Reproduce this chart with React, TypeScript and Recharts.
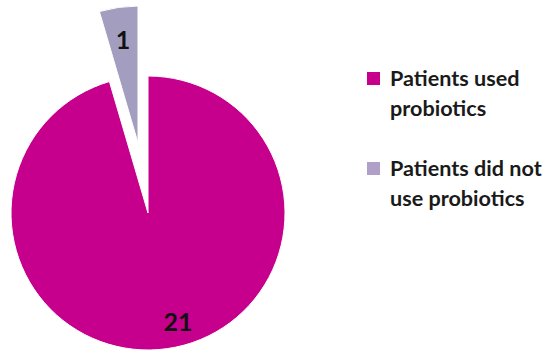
import { PieChart, Pie, Cell, Legend } from 'recharts'

const NAMES = ['Patients used probiotics', 'Patients did not use probiotics']
const LEGEND_LINES = [
    ['Patients used', 'probiotics'],
    ['Patients did not', 'use probiotics'],
]
const VALUES = [21, 1]
const COLORS = ['#C6008D', '#A39EBF']
const LEGEND_COLORS = ['#C6008D', '#B0A0C8']

const data = NAMES.map((name, i) => ({ name, value: VALUES[i] }))

const RAD = Math.PI / 180

// only draw the label for the slice that is visible in this pie
const makeLabel = (visibleIndex: number, frac: number, anchor: 'start' | 'middle') => (props: any) => {
    const { cx, cy, midAngle, outerRadius, index, value } = props
    if (index !== visibleIndex) return null
    const r = outerRadius * frac
    const x = cx + r * Math.cos(-midAngle * RAD)
    const y = cy + r * Math.sin(-midAngle * RAD)
    return (
        <text x={x} y={y} fill="#111" textAnchor={anchor} dominantBaseline="central"
            fontSize={25} fontWeight="bold" fontFamily="Lato, sans-serif">
            {value}
        </text>
    )
}

const LegendContent = () => (
    <div style={{ fontFamily: 'Lato, sans-serif', fontWeight: 700, fontSize: 21.6, color: '#1a1a1a' }}>
        {LEGEND_LINES.map((lines, i) => (
            <div key={i} style={{ display: 'flex', marginBottom: i === 0 ? 30 : 0 }}>
                <div style={{ width: 13, height: 13, background: LEGEND_COLORS[i], marginTop: 9, marginRight: 10 }} />
                <div style={{ lineHeight: '30px' }}>
                    {lines.map((l, j) => <div key={j}>{l}</div>)}
                </div>
            </div>
        ))}
    </div>
)

export default function App() {
    return (
        <div style={{ position: 'absolute', left: 0, top: 0, background: '#fff' }}>
            <PieChart width={547} height={354} margin={{ top: 0, right: 0, bottom: 0, left: 0 }}>
                <Pie
                    data={data}
                    dataKey="value"
                    cx={148}
                    cy={213}
                    outerRadius={137}
                    startAngle={90}
                    endAngle={-270}
                    labelLine={false}
                    label={makeLabel(0, 0.8, 'start')}
                    isAnimationActive={false}
                >
                    {data.map((_, i) => (
                        <Cell key={`a-${i}`} fill={i === 0 ? COLORS[0] : 'none'}
                            stroke={i === 0 ? '#fff' : 'none'} strokeWidth={1} />
                    ))}
                </Pie>
                {/* exploded small slice */}
                <Pie
                    data={data}
                    dataKey="value"
                    cx={138}
                    cy={143}
                    outerRadius={137}
                    startAngle={90}
                    endAngle={-270}
                    labelLine={false}
                    label={makeLabel(1, 0.77, 'middle')}
                    isAnimationActive={false}
                >
                    {data.map((_, i) => (
                        <Cell key={`b-${i}`} fill={i === 1 ? COLORS[1] : 'none'}
                            stroke={i === 1 ? '#fff' : 'none'} strokeWidth={1} />
                    ))}
                </Pie>
                <Legend
                    layout="vertical"
                    verticalAlign="top"
                    align="right"
                    content={<LegendContent />}
                    wrapperStyle={{ left: 367, top: 63, width: 180 }}
                />
            </PieChart>
        </div>
    )
}
